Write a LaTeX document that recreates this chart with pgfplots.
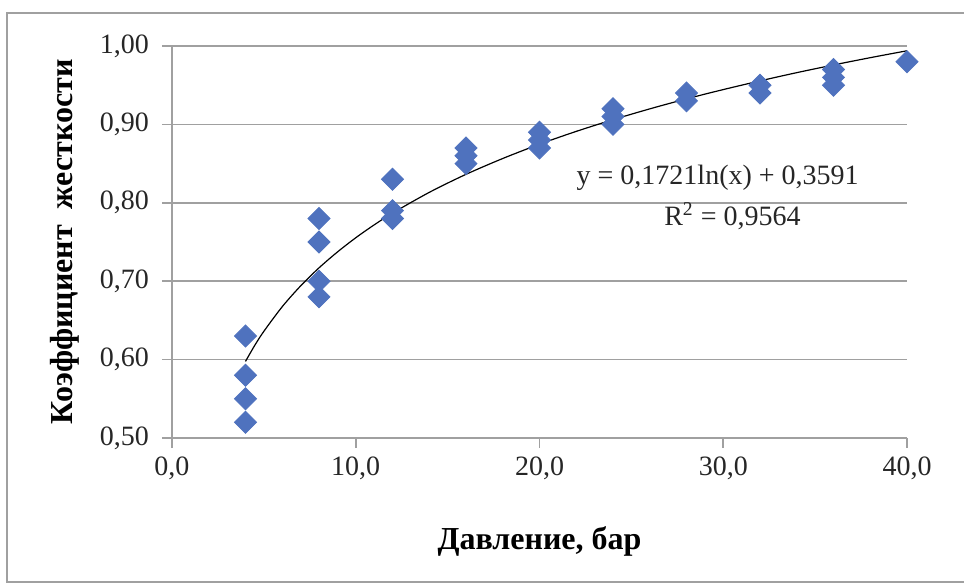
\documentclass[border=0pt]{standalone}
\usepackage{pgfplots}
\pgfplotsset{compat=1.18}
\usepackage{fontspec}
\setmainfont{Liberation Serif}
\definecolor{mk}{RGB}{79,114,190}
\definecolor{gr}{RGB}{160,160,160}
\begin{document}
\begin{tikzpicture}[x=1pt,y=1pt]
\path[use as bounding box] (-86,-72.5) rectangle (396,219);
\draw[gr, line width=0.8pt] (398,-72) -- (-82.5,-72) -- (-82.5,212.5) -- (398,212.5);
\begin{axis}[
  at={(0,0)}, anchor=origin,
  scale only axis, width=367.5pt, height=196pt,
  xmin=0, xmax=40, ymin=0.5, ymax=1.0,
  axis x line*=bottom, axis y line*=left,
  axis line style={gr, line width=0.8pt},
  xtick={0,10,20,30,40}, ytick={0.5,0.6,0.7,0.8,0.9,1.0},
  tick align=outside, major tick length=5pt,
  tick style={gr, line width=0.8pt},
  ymajorgrids, grid style={gr, line width=0.8pt},
  /pgf/number format/assume math mode=true,
  xticklabel style={/pgf/number format/fixed, /pgf/number format/fixed zerofill, /pgf/number format/precision=1, /pgf/number format/use comma, yshift=-1pt},
  yticklabel style={/pgf/number format/fixed, /pgf/number format/fixed zerofill, /pgf/number format/precision=2, /pgf/number format/use comma, xshift=-3pt},
  ticklabel style={font=\fontsize{14}{16}\selectfont, text=black!85},
  xlabel={\textbf{Давление, бар}},
  ylabel={\textbf{Коэффициент\ \ жесткости}},
  label style={font=\fontsize{16}{18}\selectfont},
  xlabel style={at={(axis description cs:0.5,-0.265)}, anchor=center},
  ylabel style={at={(axis description cs:-0.1456,0.5)}, anchor=center},
  clip=false,
]
\addplot[black, line width=0.6pt, smooth, no markers] coordinates {
(4,0.5977) (4.5,0.6180) (5,0.6361) (6,0.6675) (7,0.6940) (8,0.7170) (9,0.7372)
(10,0.7554) (11,0.7718) (12,0.7868) (14,0.8133) (16,0.8363) (18,0.8565) (20,0.8747)
(22,0.8911) (24,0.9060) (26,0.9198) (28,0.9326) (30,0.9444) (32,0.9555)
(34,0.9660) (36,0.9758) (38,0.9851) (40,0.9939)};
\addplot[only marks, mark=square*, mark size=3.9pt, mark options={fill=mk, draw=mk, rotate=45}] coordinates {
(4,0.63) (4,0.58) (4,0.55) (4,0.52)
(8,0.78) (8,0.75) (8,0.70) (8,0.68)
(12,0.83) (12,0.79) (12,0.78)
(16,0.87) (16,0.86) (16,0.85)
(20,0.89) (20,0.88) (20,0.87)
(24,0.92) (24,0.91) (24,0.90)
(28,0.94) (28,0.93)
(32,0.95) (32,0.94)
(36,0.97) (36,0.96) (36,0.95)
(40,0.98)};
\node[font=\fontsize{14}{16}\selectfont, text=black!85] at (axis cs:29.7,0.832) {y = 0,1721ln(x) + 0,3591};
\node[font=\fontsize{14}{16}\selectfont, text=black!85] at (axis cs:30.5,0.783) {R\textsuperscript{2} = 0,9564};
\end{axis}
\end{tikzpicture}
\end{document}
